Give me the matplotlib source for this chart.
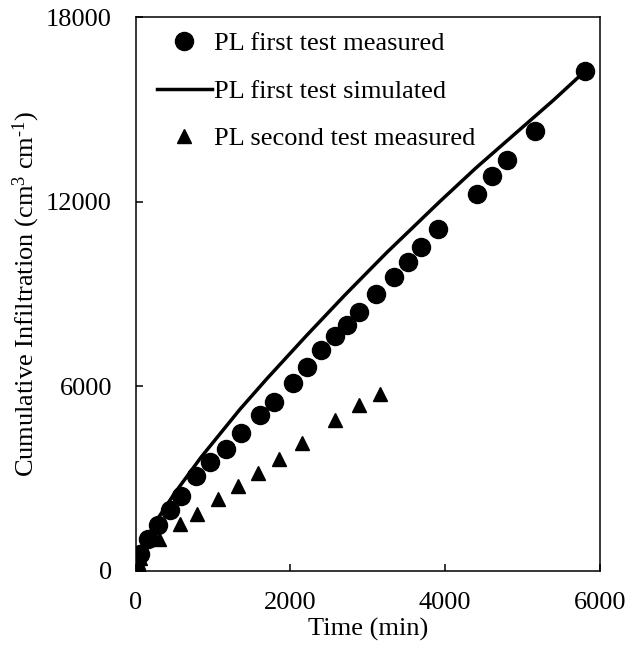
import matplotlib
matplotlib.use("Agg")
import matplotlib.pyplot as plt

plt.rcParams['font.family'] = ['Liberation Serif', 'DejaVu Serif']
plt.rcParams['mathtext.default'] = 'regular'
plt.rcParams['mathtext.fontset'] = 'custom'
plt.rcParams['mathtext.rm'] = 'Liberation Serif'

# PL first test, measured
first_time = [0, 57, 165, 292, 449, 588, 785, 960, 1165, 1365, 1614, 1788,
              2028, 2216, 2399, 2574, 2727, 2892, 3110, 3337, 3520, 3686,
              3905, 4406, 4611, 4799, 5156, 5801]
first_inf = [0, 549, 1044, 1482, 1977, 2438, 3075, 3518, 3956, 4473, 5055,
             5494, 6115, 6632, 7162, 7624, 7985, 8424, 8996, 9558, 10052,
             10514, 11118, 12233, 12838, 13365, 14300, 16230]

# PL first test, simulated
sim_time = [0, 100, 250, 500, 850, 1350, 1700, 2200, 2700, 3240, 3930,
            4400, 4900, 5400, 5801]
sim_inf = [0, 800, 1550, 2500, 3700, 5250, 6250, 7620, 8950, 10330, 12000,
           13100, 14200, 15300, 16230]

# PL second test, measured
second_time = [0, 60, 306, 575, 794, 1068, 1330, 1583, 1854, 2151, 2582,
               2892, 3163]
second_inf = [0, 420, 1044, 1505, 1834, 2328, 2747, 3186, 3625, 4142, 4890,
              5384, 5732]

fig = plt.figure(figsize=(6.3, 6.55), dpi=100)
ax = fig.add_axes([0.2151, 0.1287, 0.7373, 0.8453])

ax.plot(second_time, second_inf, '^', color='black', markersize=10.5,
        label='PL second test measured', zorder=2)
ax.plot(sim_time, sim_inf, '-', color='black', linewidth=2.5,
        label='PL first test simulated', zorder=3)
ax.plot(first_time, first_inf, 'o', color='black', markersize=13,
        label='PL first test measured', zorder=4)

ax.set_xlim(0, 6000)
ax.set_ylim(0, 18000)
ax.set_xticks([0, 2000, 4000, 6000])
ax.set_yticks([0, 6000, 12000, 18000])
ax.tick_params(direction='in', length=5, width=1.1, labelsize=19)
ax.tick_params(axis='x', pad=15)
ax.tick_params(axis='y', pad=17)
for s in ax.spines.values():
    s.set_linewidth(1.1)

ax.set_xlabel('Time (min)', fontsize=19, labelpad=3)
ax.set_ylabel(r'Cumulative Infiltration (cm$^{3}$ cm$^{\text{-1}}$)',
              fontsize=19, labelpad=3)

handles, labels = ax.get_legend_handles_labels()
order = [2, 1, 0]
ax.legend([handles[i] for i in order], [labels[i] for i in order],
          loc='upper left', bbox_to_anchor=(0.0456, 0.973), frameon=False,
          fontsize=19, labelspacing=0.91, handlelength=2.08,
          handletextpad=0.1, borderaxespad=0, borderpad=0)

fig.savefig('out.png', dpi=100)
